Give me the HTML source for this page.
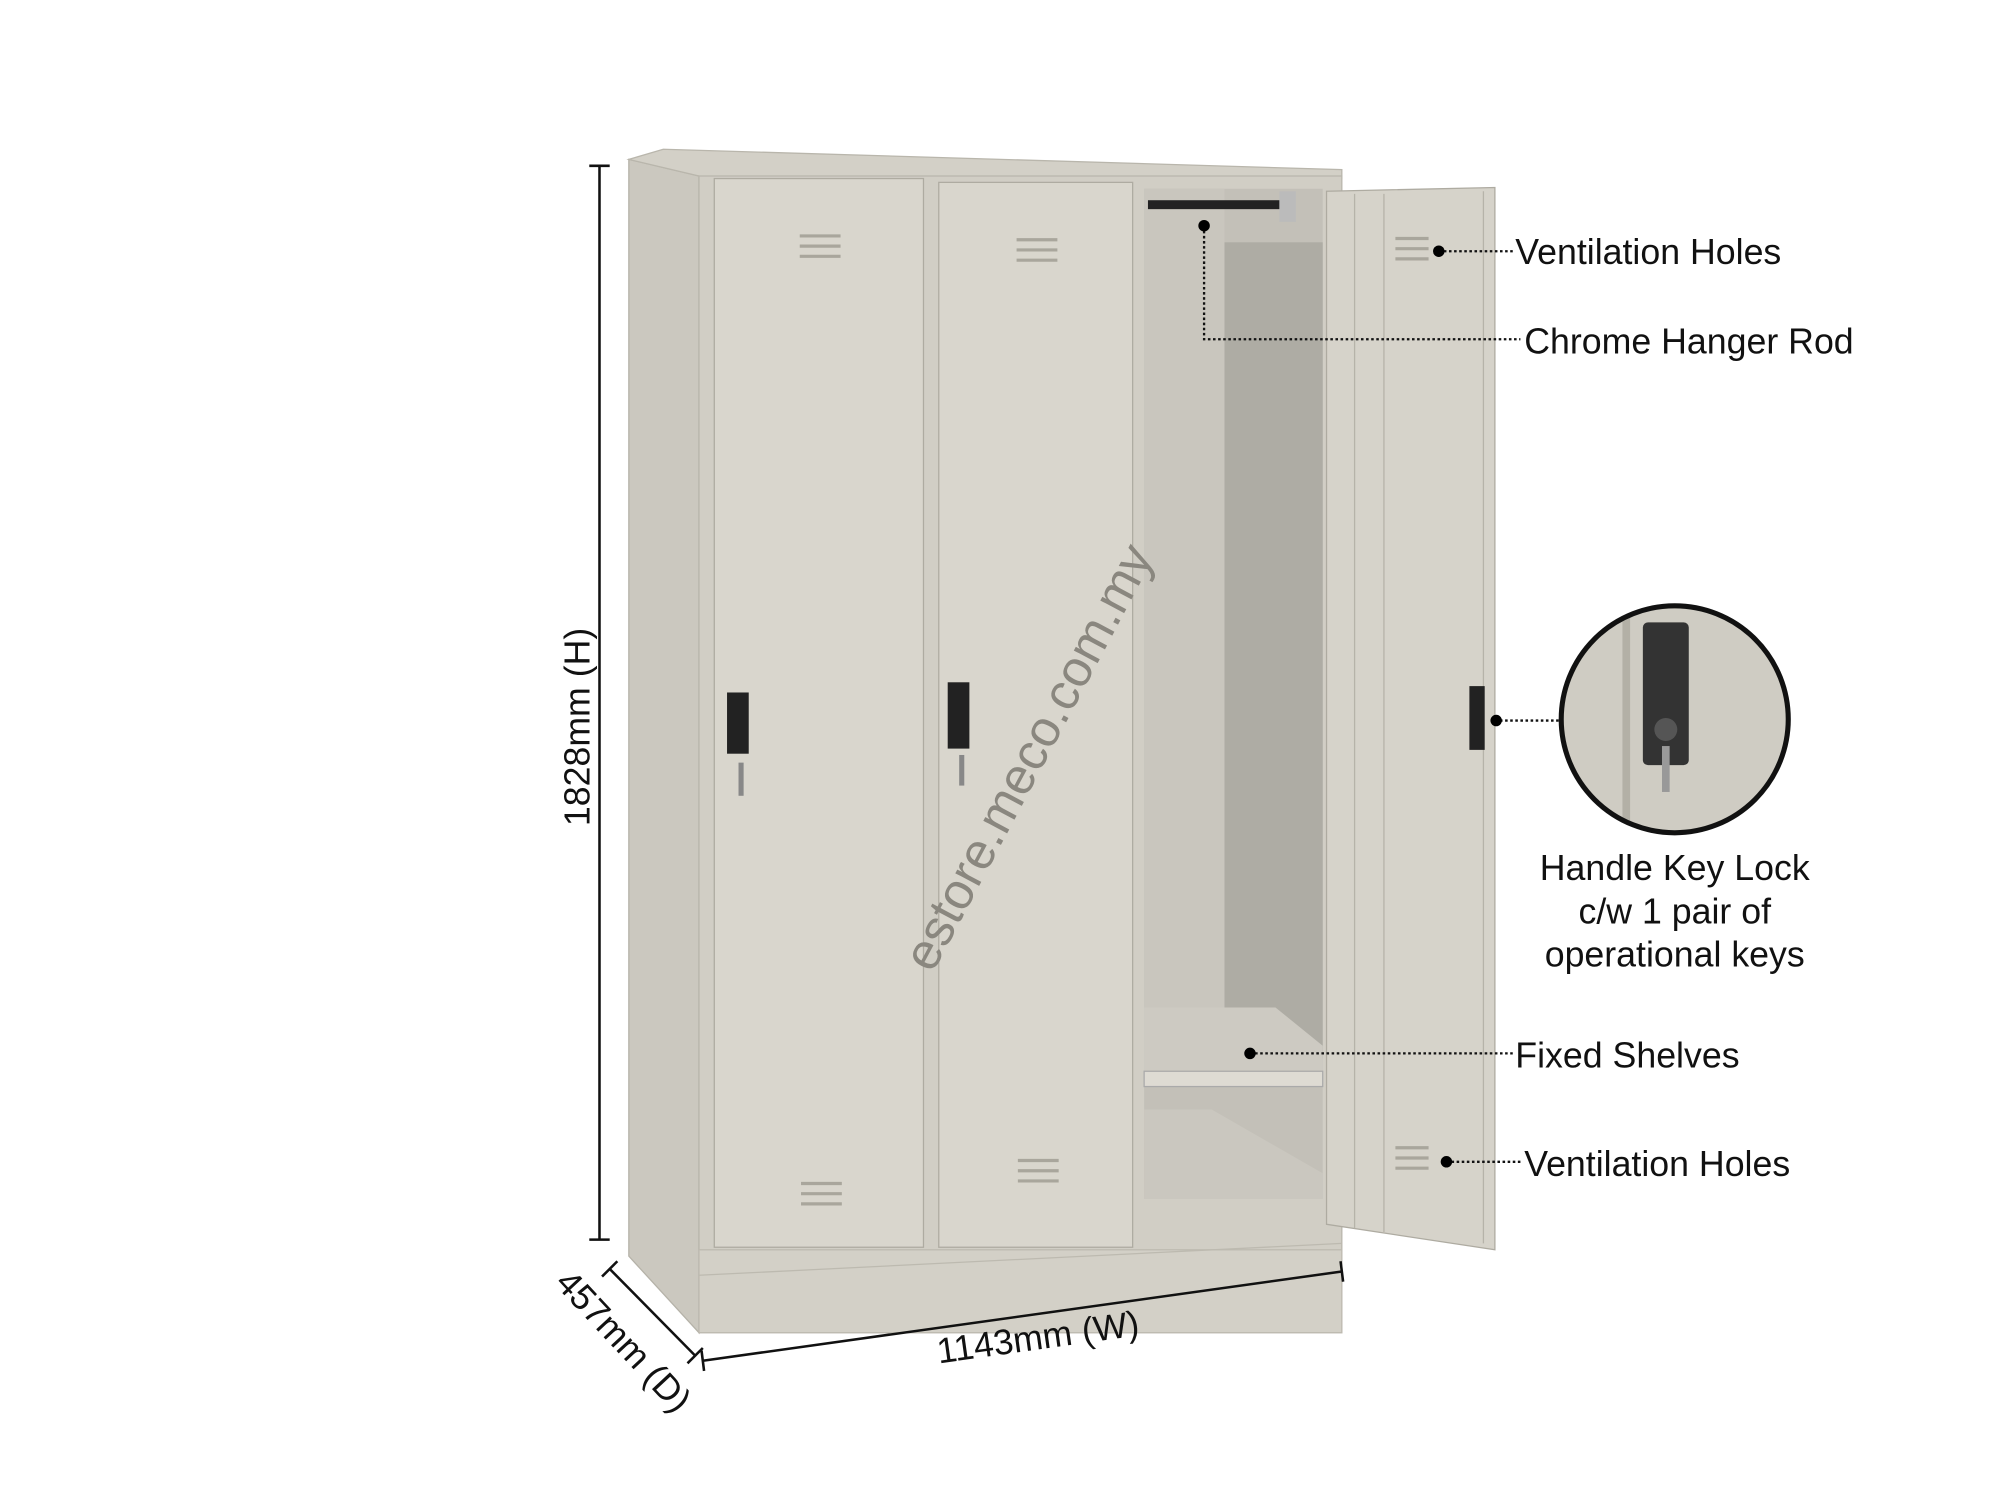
<!DOCTYPE html>
<html><head><meta charset="utf-8"><style>
html,body{margin:0;padding:0;background:#fff;}
svg{display:block;}
text{font-family:"Liberation Sans",sans-serif;fill:#111;}
</style></head><body>
<svg width="2000" height="1487" viewBox="0 0 1568 1166" preserveAspectRatio="none" xmlns="http://www.w3.org/2000/svg">
<rect width="1568" height="1166" fill="#fff"/>
<polygon points="493,125 548,138 548,1045 493,985" fill="#cbc8bf" stroke="#b5b2a8"/>
<polygon points="493,125 520,117 1052,133 1052,140 548,138" fill="#d3d0c7" stroke="#b9b6ac"/>
<rect x="548" y="138" width="504" height="907" fill="#d1cec5" stroke="#b9b6ac"/>
<rect x="548" y="980" width="504" height="65" fill="#d3d0c7" stroke="#bdbab0"/>
<line x1="548" y1="1000" x2="1052" y2="975" stroke="#bdbab0"/>
<rect x="560" y="140" width="164" height="838" fill="#d9d6cd" stroke="#aeaba1"/>
<rect x="736" y="143" width="152" height="835" fill="#d9d6cd" stroke="#aeaba1"/>
<rect x="897" y="148" width="140" height="792" fill="#c3c0b8"/>
<rect x="960" y="190" width="77" height="640" fill="#aeaca4"/>
<rect x="897" y="148" width="63" height="700" fill="#c9c6be"/>
<rect x="900" y="157" width="110" height="7" fill="#222"/>
<rect x="1003" y="150" width="13" height="24" fill="#bbb"/>
<polygon points="897,790 1000,790 1037,820 1037,848 897,848" fill="#cdcac2"/>
<rect x="897" y="840" width="140" height="12" fill="#dedbd3" stroke="#aaa"/>
<polygon points="897,870 950,870 1037,920 1037,940 897,940" fill="#cac7bf"/>
<polygon points="1040,150 1172,147 1172,980 1040,960" fill="#d6d3ca" stroke="#aeaba1"/>
<line x1="1062" y1="152" x2="1062" y2="963" stroke="#b6b3a9"/>
<line x1="1085" y1="152" x2="1085" y2="966" stroke="#b6b3a9"/>
<line x1="1163" y1="150" x2="1163" y2="975" stroke="#b6b3a9"/>
<rect x="1152" y="538" width="12" height="50" fill="#222"/>
<g fill="none" stroke="#a9a69c" stroke-width="2.5">
<path d="M627,185h32M627,193h32M627,201h32"/><path d="M797,188h32M797,196h32M797,204h32"/>
<path d="M628,928h32M628,936h32M628,944h32"/><path d="M798,910h32M798,918h32M798,926h32"/>
<path d="M1094,187h26M1094,195h26M1094,203h26"/><path d="M1094,900h26M1094,908h26M1094,916h26"/>
</g>
<rect x="570" y="543" width="17" height="48" fill="#222"/><rect x="579" y="598" width="4" height="26" fill="#888"/>
<rect x="743" y="535" width="17" height="52" fill="#222"/><rect x="752" y="592" width="4" height="24" fill="#888"/>
<g stroke="#111" stroke-width="2">
<line x1="470" y1="130" x2="470" y2="972"/><line x1="462" y1="130" x2="478" y2="130"/><line x1="462" y1="972" x2="478" y2="972"/>
<line x1="551" y1="1067" x2="1052" y2="997"/><line x1="550" y1="1059" x2="552" y2="1075"/><line x1="1051" y1="989" x2="1053" y2="1005"/>
<line x1="478" y1="995" x2="545" y2="1063"/><line x1="472" y1="1001" x2="484" y2="989"/><line x1="539" y1="1069" x2="551" y2="1057"/>
</g>
<text x="0" y="0" font-size="28" text-anchor="middle" transform="translate(462,570) rotate(-90)">1828mm (H)</text>
<text x="0" y="0" font-size="28" text-anchor="middle" transform="translate(815,1058) rotate(-8)">1143mm (W)</text>
<text x="0" y="0" font-size="28" text-anchor="middle" transform="translate(482,1058) rotate(47)">457mm (D)</text>
<text x="0" y="0" font-size="40" text-anchor="middle" style="fill:#8a877f" transform="translate(818,600) rotate(-62)">estore.meco.com.my</text>
<g stroke="#111" stroke-width="1.8" stroke-dasharray="2,2" fill="none">
<line x1="1128" y1="197" x2="1187" y2="197"/>
<polyline points="944,177 944,266 1192,266"/>
<line x1="1172" y1="565" x2="1222" y2="565"/>
<line x1="980" y1="826" x2="1187" y2="826"/>
<line x1="1134" y1="911" x2="1193" y2="911"/>
</g>
<g fill="#000"><circle cx="1128" cy="197" r="4.5"/><circle cx="944" cy="177" r="4.5"/><circle cx="1173" cy="565" r="4.5"/><circle cx="980" cy="826" r="4.5"/><circle cx="1134" cy="911" r="4.5"/></g>
<text x="1188" y="207" font-size="28">Ventilation Holes</text>
<text x="1195" y="277" font-size="28">Chrome Hanger Rod</text>
<text x="1188" y="837" font-size="28">Fixed Shelves</text>
<text x="1195" y="922" font-size="28">Ventilation Holes</text>
<text x="1313" y="690" font-size="28" text-anchor="middle">Handle Key Lock</text>
<text x="1313" y="724" font-size="28" text-anchor="middle">c/w 1 pair of</text>
<text x="1313" y="758" font-size="28" text-anchor="middle">operational keys</text>
<defs><clipPath id="c"><circle cx="1313" cy="564" r="88"/></clipPath></defs>
<g clip-path="url(#c)">
<rect x="1220" y="470" width="190" height="190" fill="#cfccc3"/>
<rect x="1272" y="470" width="6" height="190" fill="#b3b0a6"/>
<rect x="1288" y="488" width="36" height="112" rx="4" fill="#333"/>
<circle cx="1306" cy="572" r="9" fill="#555"/>
<rect x="1303" y="585" width="6" height="36" fill="#999"/>
</g>
<circle cx="1313" cy="564" r="89" fill="none" stroke="#111" stroke-width="4"/>
</svg>
</body></html>
